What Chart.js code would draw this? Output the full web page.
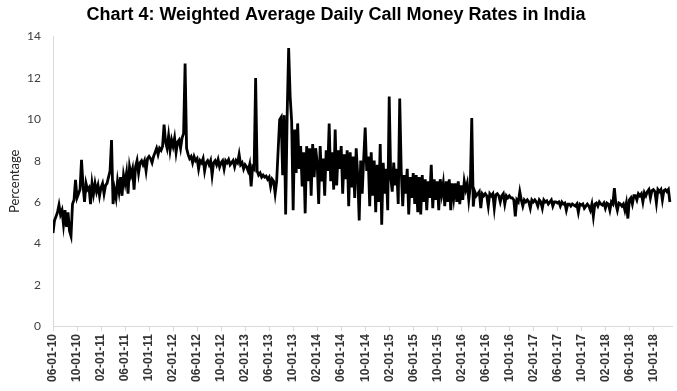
<!DOCTYPE html>
<html>
<head>
<meta charset="utf-8">
<script src="https://cdn.jsdelivr.net/npm/chart.js@4.4.1/dist/chart.umd.min.js"></script>
<style>
  html, body { margin: 0; padding: 0; background: #fff; }
  #wrap { width: 677px; height: 391px; }
</style>
</head>
<body>
<div id="wrap"><canvas id="rates"></canvas></div>
<script>
// Months counted from 06-01-10; one reading roughly every week (4 per month)
const startMonth = 0;
const readingsPerMonth = 4;

// Weighted average daily call money rate (%), one row per month
const callRates = [
  4.5, 5.1, 5.3, 5.5,      // Jun-10
  5.86, 5.4, 5.6, 4.9,
  5.6, 4.8, 5.5, 4.6,
  4.35, 5.9, 6.1, 7.07,
  6.2, 6.4, 6.6, 8.04,     // Oct-10
  6.8, 6.0, 6.9, 6.6,
  6.7, 5.9, 6.9, 6.4,
  6.9, 6.5, 6.8, 6.3,      // Jan-11
  6.7, 6.9, 6.4, 6.8,
  6.9, 7.2, 7.5, 9.0,
  5.9, 6.6, 6.2, 7.0,
  6.5, 7.2, 6.3, 7.3,
  6.9, 7.4, 6.4, 7.7,      // Jun-11
  7.3, 7.6, 6.6, 7.7,
  8.0, 7.4, 7.9, 8.0,
  7.8, 8.0, 7.5, 8.1,
  8.2, 8.1, 7.9, 8.2,
  8.4, 8.6, 8.3, 8.6,
  8.5, 8.7, 9.74, 8.9,
  8.6, 9.2, 8.5, 9.0,      // Jan-12
  8.7, 9.1, 8.4, 8.9,
  9.0, 8.6, 9.1, 9.3,
  12.7, 8.6, 8.3, 8.1,
  8.2, 7.9, 8.2, 8.0,
  8.1, 7.6, 8.0, 7.9,      // Jun-12
  8.1, 7.5, 7.9, 8.0,
  7.8, 8.0, 7.3, 7.9,
  8.0, 7.8, 8.05, 7.7,
  7.9, 8.0, 7.6, 8.0,
  7.9, 8.05, 7.8, 7.9,
  8.0, 7.7, 8.0, 7.9,
  8.3, 7.8, 7.9, 7.6,      // Jan-13
  7.8, 7.7, 7.5, 7.8,
  6.75, 7.7, 7.6, 12.0,
  7.5, 7.3, 7.4, 7.2,
  7.3, 7.2, 7.25, 7.1,
  7.2, 6.75, 7.1, 7.0,     // Jun-13
  6.4, 7.0, 8.5, 9.98,
  10.1, 7.3, 10.2, 5.4,
  10.2, 13.45, 11.1, 9.9,
  5.6, 9.5, 7.4, 9.8,
  7.6, 8.7, 6.75, 8.4,
  5.45, 8.7, 7.0, 8.6,
  6.3, 8.8, 7.2, 8.6,      // Jan-14
  7.9, 5.9, 8.7, 7.0,
  8.1, 6.3, 8.5, 7.5,
  9.8, 7.0, 8.4, 6.6,
  9.5, 6.8, 8.5, 7.6,
  8.7, 6.4, 8.3, 7.1,      // Jun-14
  8.5, 5.8, 8.4, 6.7,
  8.2, 6.2, 8.6, 7.3,
  5.1, 8.0, 6.4, 8.1,
  9.6, 7.5, 8.2, 5.8,
  8.4, 6.3, 8.0, 5.5,
  7.8, 6.0, 8.8, 4.9,
  7.9, 6.4, 7.6, 5.6,      // Jan-15
  11.1, 7.2, 6.5, 7.9,
  6.8, 7.6, 5.9, 11.0,
  7.5, 5.8, 7.3, 6.4,
  7.6, 5.4, 7.2, 6.2,
  7.4, 5.9, 7.3, 5.5,      // Jun-15
  7.2, 5.4, 7.3, 6.0,
  7.1, 5.6, 7.0, 6.2,
  7.8, 5.7, 7.1, 6.1,
  7.0, 5.6, 7.1, 6.4,
  6.9, 5.8, 7.0, 6.0,
  7.1, 5.6, 6.9, 6.2,
  6.9, 6.0, 7.0, 5.9,      // Jan-16
  6.8, 6.1, 7.0, 6.6,
  6.9, 6.1, 6.75, 10.06,
  5.78, 6.5, 6.3, 6.4,
  6.5, 5.7, 6.4, 6.3,
  6.4, 6.3, 5.8, 6.4,      // Jun-16
  6.3, 6.4, 5.7, 6.35,
  6.4, 6.3, 6.0, 6.3,
  6.4, 5.9, 6.3, 6.2,
  6.3, 6.2, 6.2, 6.1,
  5.3, 6.1, 6.0, 6.5,
  6.1, 5.8, 6.1, 6.0,
  6.1, 6.0, 5.7, 6.1,      // Jan-17
  6.0, 6.1, 6.0, 5.8,
  6.1, 6.0, 5.7, 6.1,
  6.0, 6.05, 5.9, 6.0,
  6.1, 5.8, 6.0, 6.0,
  5.95, 6.0, 5.8, 6.0,     // Jun-17
  5.9, 5.95, 5.6, 5.9,
  5.9, 5.8, 5.9, 5.85,
  5.8, 5.9, 5.5, 5.9,
  5.85, 5.9, 5.7, 5.8,
  5.9, 5.8, 5.6, 5.9,
  5.3, 5.9, 5.95, 5.8,
  6.0, 5.9, 5.85, 5.95,    // Jan-18
  5.7, 5.95, 5.9, 5.6,
  6.0, 5.9, 6.67, 5.9,
  5.6, 5.95, 5.9, 5.8,
  5.9, 5.6, 5.95, 5.2,
  6.1, 6.2, 5.9, 6.3,      // Jun-18
  6.3, 6.1, 6.4, 6.3,
  6.4, 6.0, 6.45, 6.3,
  6.5, 6.6, 6.2, 6.55,
  6.6, 6.5, 5.95, 6.6,
  6.5, 6.6, 6.1, 6.55,
  6.6, 6.5, 6.6, 6.0       // Dec-18
];

// X axis labels, one every four months
const tickLabels = [
  "06-01-10", "10-01-10", "02-01-11", "06-01-11", "10-01-11", "02-01-12",
  "06-01-12", "10-01-12", "02-01-13", "06-01-13", "10-01-13", "02-01-14",
  "06-01-14", "10-01-14", "02-01-15", "06-01-15", "10-01-15", "02-01-16",
  "06-01-16", "10-01-16", "02-01-17", "06-01-17", "10-01-17", "02-01-18",
  "06-01-18", "10-01-18"
];
const monthsPerTick = 4;

const points = callRates.map((v, i) => ({ x: startMonth + i / readingsPerMonth, y: v }));

new Chart(document.getElementById("rates"), {
  type: "line",
  data: {
    datasets: [{
      data: points,
      borderColor: "#000000",
      borderWidth: 2.8,
      pointRadius: 0,
      tension: 0,
      fill: false
    }]
  },
  options: {
    responsive: true,
    maintainAspectRatio: false,
    animation: false,
    layout: { padding: { top: 0, right: 5, bottom: 0, left: 0 } },
    plugins: {
      legend: { display: false },
      tooltip: { enabled: false },
      title: {
        display: true,
        text: "Chart 4: Weighted Average Daily Call Money Rates in India",
        color: "#000000",
        font: { family: "Liberation Sans", size: 18, weight: "bold" },
        padding: { top: 4, bottom: 11 }
      }
    },
    scales: {
      x: {
        type: "linear",
        min: 0,
        max: 103.1,
        grid: {
          drawOnChartArea: false,
          drawTicks: true,
          tickLength: 5,
          color: "#d9d9d9"
        },
        border: { color: "#d9d9d9" },
        afterBuildTicks: (scale) => {
          scale.ticks = tickLabels.map((_, i) => ({ value: i * monthsPerTick }));
        },
        afterFit: (scale) => { scale.height = 65; },
        ticks: {
          autoSkip: false,
          minRotation: 90,
          maxRotation: 90,
          padding: 3,
          color: "#333333",
          font: { family: "Liberation Sans", size: 12, weight: "bold" },
          callback: (value) => tickLabels[Math.round(value / monthsPerTick)]
        }
      },
      y: {
        min: 0,
        max: 14,
        grid: { display: false },
        border: { color: "#d9d9d9" },
        afterFit: (scale) => { scale.width = 53; },
        ticks: {
          stepSize: 2,
          padding: 4,
          color: "#404040",
          font: { family: "Lato", size: 12 }
        },
        title: {
          display: true,
          text: "Percentage",
          color: "#262626",
          font: { family: "Lato", size: 13 },
          padding: { top: 7, bottom: 0 }
        }
      }
    }
  }
});
</script>
</body>
</html>
